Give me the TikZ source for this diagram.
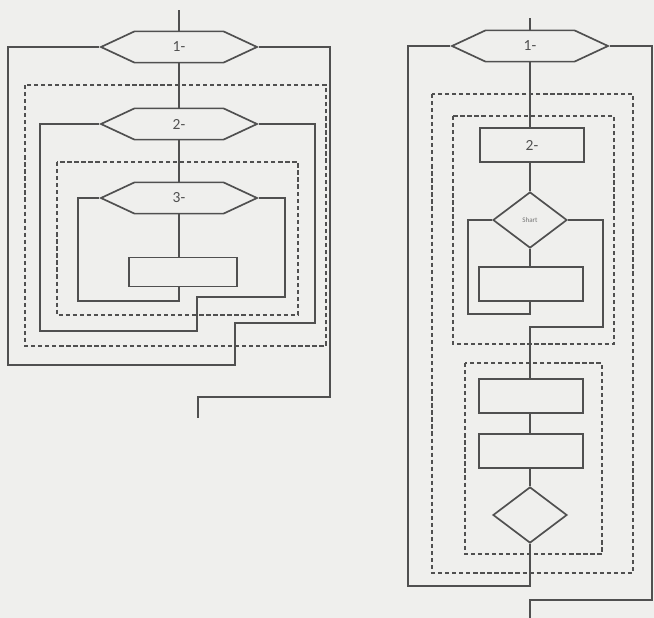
\documentclass[tikz,border=0pt]{standalone}
\usepackage{fontspec}
\setmainfont{Carlito}
\usetikzlibrary{shapes.geometric, shapes.symbols, positioning}
\definecolor{ink}{HTML}{505050}
\definecolor{paper}{HTML}{EFEFED}

\begin{document}
\begin{tikzpicture}[x=0.025cm, y=-0.025cm, line join=miter,
    hexa/.style={draw=ink, line width=1.2pt, shape=signal, signal to=west and east,
      signal pointer angle=50, minimum width=3.9cm, minimum height=0.78cm,
      inner sep=0pt, font=\fontsize{11}{12}\selectfont, text=ink},
    box/.style={draw=ink, line width=1.2pt, rectangle, minimum width=2.6cm,
      minimum height=0.85cm, inner sep=0pt, font=\fontsize{11}{12}\selectfont, text=ink},
    cond/.style={draw=ink, line width=1.2pt, diamond, minimum width=1.85cm,
      minimum height=1.4cm, inner sep=0pt, font=\fontsize{5}{5}\selectfont, text=ink!80},
    wire/.style={draw=ink, line width=1.2pt},
    region/.style={draw=ink, line width=0.9pt, dash pattern=on 3pt off 2pt}]
  \fill[paper] (0,0) rectangle (654,618);
  \useasboundingbox (0,0) rectangle (654,618);

  % left: three nested loops
  \coordinate (inL) at (179,10);
  \coordinate (outL) at (198,418);
  \node[hexa] (h1) at (179,47) {1-};
  \node[hexa] (h2) at (179,124) {2-};
  \node[hexa] (h3) at (179,198) {3-};
  \node[box, minimum width=2.7cm, minimum height=0.73cm] (r1) at (183,272) {};
  \draw[region] (25,85) rectangle (326,346);
  \draw[region] (57,162) rectangle (298,315);
  \draw[wire] (inL) -- (h1.north);
  \draw[wire] (h1.south) -- (h2.north);
  \draw[wire] (h2.south) -- (h3.north);
  \draw[wire] (h3.south) -- (h3.south |- r1.north);
  \draw[wire] (r1.south -| h3.south) |- (78,301) |- (h3.west);
  \draw[wire] (h3.east) -| (285,297) -| (197,331) -| (40,124) -- (h2.west);
  \draw[wire] (h2.east) -| (315,323) -| (235,365) -| (8,47) -- (h1.west);
  \draw[wire] (h1.east) -| (330,397) -| (outL);

  % right: loop with a condition inside
  \coordinate (inR) at (530,18);
  \coordinate (outR) at (530,618);
  \node[hexa] (g1) at (530,46) {1-};
  \node[box] (b2) at (532,145) {2-};
  \node[cond] (d1) at (530,220) {Shart};
  \node[box] (b3) at (531,284) {};
  \node[box] (b4) at (531,396) {};
  \node[box] (b5) at (531,451) {};
  \node[cond] (d2) at (530,515) {};
  \draw[region] (432,94) rectangle (633,573);
  \draw[region] (453,116) rectangle (614,344);
  \draw[region] (465,363) rectangle (602,554);
  \draw[wire] (inR) -- (g1.north);
  \draw[wire] (g1.south) -- (g1.south |- b2.north);
  \draw[wire] (g1.south |- b2.south) -- (d1.north);
  \draw[wire] (d1.south) -- (d1.south |- b3.north);
  \draw[wire] (d1.south |- b3.south) |- (468,314) |- (d1.west);
  \draw[wire] (d1.east) -| (603,327) -| (d1.south |- b4.north);
  \draw[wire] (d1.south |- b4.south) -- (d1.south |- b5.north);
  \draw[wire] (d1.south |- b5.south) -- (d2.north);
  \draw[wire] (d2.south) |- (408,586) |- (g1.west);
  \draw[wire] (g1.east) -| (652,600) -| (outR);
\end{tikzpicture}
\end{document}
